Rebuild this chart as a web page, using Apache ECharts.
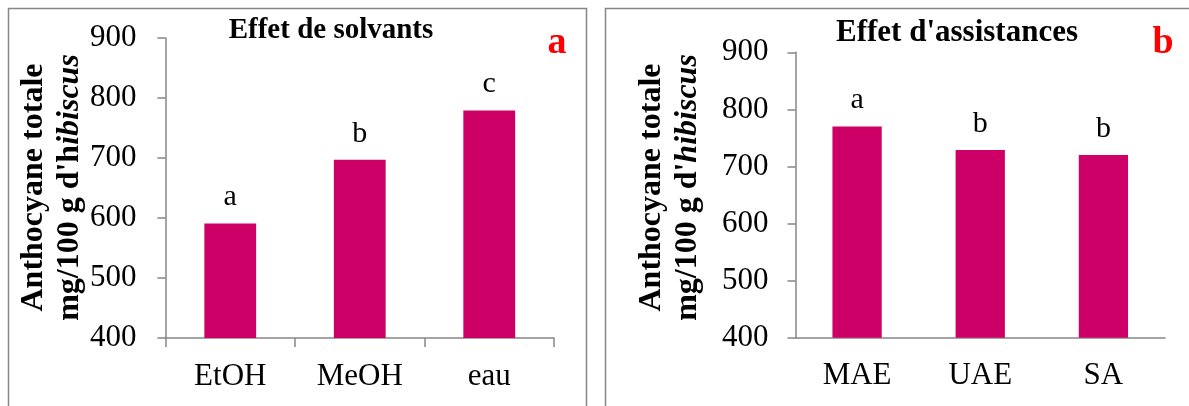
<!DOCTYPE html>
<html><head><meta charset="utf-8">
<script src="https://cdn.jsdelivr.net/npm/echarts@6/dist/echarts.min.js"></script>
<style>html,body{margin:0;padding:0;background:#fff}#c{width:1189px;height:406px}</style>
</head><body><div id="c"></div>
<script>
// ---- data ----
const catsA = ['EtOH', 'MeOH', 'eau'];
const valsA = [591, 697, 779];
const sigA = ['a', 'b', 'c'];
const catsB = ['MAE', 'UAE', 'SA'];
const valsB = [770, 729, 720];
const sigB = ['a', 'b', 'b'];
const yTicks = [400, 500, 600, 700, 800, 900];
const titleA = 'Effet de solvants';
const titleB = "Effet d'assistances";

const FONT = 'Liberation Serif';
const BAR = '#CC0066';
const AX = '#868686';

function yAxis(gridIndex, margin) {
  return {
    type: 'value', gridIndex,
    min: yTicks[0], max: yTicks[yTicks.length - 1], interval: yTicks[1] - yTicks[0],
    splitLine: { show: false },
    axisLine: { show: true, lineStyle: { color: AX, width: 1.5 } },
    axisTick: { show: true, inside: false, length: 8, lineStyle: { color: AX, width: 1.5 } },
    axisLabel: { color: '#000', fontFamily: FONT, fontSize: 31, margin }
  };
}
function xAxis(gridIndex, cats, ticks) {
  return {
    type: 'category', gridIndex, data: cats,
    axisLine: { show: true, lineStyle: { color: AX, width: 1.5 } },
    axisTick: { show: ticks, length: 9, lineStyle: { color: AX, width: 1.5 } },
    axisLabel: { color: '#000', fontFamily: FONT, fontSize: 31, margin: 23 }
  };
}
function bars(xi, vals, sig) {
  return {
    type: 'bar', xAxisIndex: xi, yAxisIndex: xi, data: vals, barWidth: '40%',
    itemStyle: { color: BAR },
    label: { show: true, position: 'top', distance: 11, color: '#000',
      fontFamily: FONT, fontSize: 30, formatter: p => sig[p.dataIndex] }
  };
}
function axisTitle(x, y, italicPart, uprightTail) {
  return {
    type: 'text', x, y, rotation: Math.PI / 2, z: 10,
    style: {
      text: '{b|Anthocyane totale}\n{b|mg/100 g d\'' + uprightTail + '}{i|' + italicPart + '}',
      align: 'center', verticalAlign: 'middle', fill: '#000',
      rich: {
        b: { fontFamily: FONT, fontWeight: 'bold', fontSize: 32, lineHeight: 36, fill: '#000' },
        i: { fontFamily: FONT, fontWeight: 'bold', fontStyle: 'italic', fontSize: 32, lineHeight: 36, fill: '#000' }
      }
    }
  };
}

const chart = echarts.init(document.getElementById('c'), null, { renderer: 'canvas' });
chart.setOption({
  backgroundColor: '#fff',
  animation: false,
  title: [
    { text: titleA, left: 331, top: 16, textAlign: 'center', padding: 0,
      textStyle: { fontFamily: FONT, fontWeight: 'bold', fontSize: 29, color: '#000' } },
    { text: titleB, left: 957, top: 17, textAlign: 'center', padding: 0,
      textStyle: { fontFamily: FONT, fontWeight: 'bold', fontSize: 31, color: '#000' } },
    { text: 'a', left: 557, top: 24, textAlign: 'center', padding: 0,
      textStyle: { fontFamily: FONT, fontWeight: 'bold', fontSize: 38, color: '#FF0000' } },
    { text: 'b', left: 1163, top: 24, textAlign: 'center', padding: 0,
      textStyle: { fontFamily: FONT, fontWeight: 'bold', fontSize: 38, color: '#FF0000' } }
  ],
  grid: [
    { left: 165.5, top: 38, width: 388.5, height: 300 },
    { left: 795.5, top: 52.3, width: 369.5, height: 285.4 }
  ],
  xAxis: [xAxis(0, catsA, true), xAxis(1, catsB, false)],
  yAxis: [yAxis(0, 29), yAxis(1, 27)],
  series: [bars(0, valsA, sigA), bars(1, valsB, sigB)],
  graphic: [
    { type: 'rect', shape: { x: 8.5, y: 8.5, width: 578, height: 430 },
      style: { fill: 'none', stroke: AX, lineWidth: 1.5 }, silent: true },
    { type: 'rect', shape: { x: 605.5, y: 8.5, width: 620, height: 430 },
      style: { fill: 'none', stroke: AX, lineWidth: 1.5 }, silent: true },
    axisTitle(52, 187.5, 'ibiscus', 'h'),
    axisTitle(670, 187.5, 'hibiscus', '')
  ]
});
</script></body></html>
